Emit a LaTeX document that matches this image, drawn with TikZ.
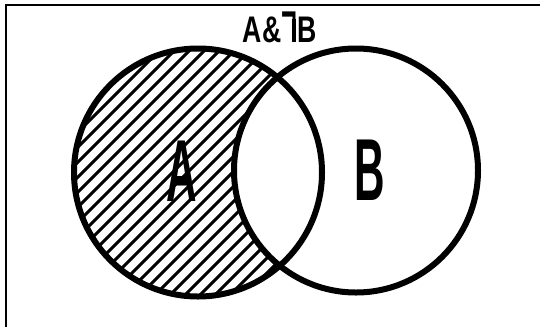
\documentclass[tikz,border=0pt]{standalone}
\usepackage{fontspec}
\usepackage{graphicx}
\setmainfont{Liberation Sans}
\tikzset{
  ring/.style={draw=black, line width=6pt},
  hatchline/.style={draw=black, line width=3pt},
  frameline/.style={draw=black, line width=2pt},
  biglabel/.style={inner sep=0pt, font=\fontsize{88}{88}\selectfont\bfseries},
  toplabel/.style={inner sep=0pt, font=\fontsize{37}{37}\selectfont\bfseries}
}
\begin{document}
\begin{tikzpicture}[x=1pt,y=-1pt]
\useasboundingbox (0,0) rectangle (540,327);
\coordinate (ca) at (198,172.5);
\coordinate (cb) at (356,170.5);
% hatching of A minus B
\begin{scope}
  \clip (ca) circle (124);
  \foreach \c in {0,15,...,900} {
    \draw[hatchline] (\c,0) -- (\c-420,420);
  }
  \fill[white] (cb) circle (122);
\end{scope}
\draw[ring] (ca) circle (124);
\draw[ring] (cb) circle (122);
% frame
\coordinate (fl) at (6,327);
\coordinate (ft) at (6,4.5);
\coordinate (fr) at (540,4.5);
\draw[frameline] (fl) -- (ft) -- (fr);
% labels
\node[biglabel] (la) at (182,171) {\scalebox{0.48}[1]{A}};
\node[biglabel] (lb) at (370,170) {\scalebox{0.48}[1]{B}};
\node[toplabel, anchor=base] (lab) at (280,42) {\scalebox{0.72}[1]{A\&\raisebox{0.3em}{\scalebox{1}[1.3]{¬}}\kern-0.17em\rule{0.15em}{0.62em}\kern0.06em B}};
\end{tikzpicture}
\end{document}
